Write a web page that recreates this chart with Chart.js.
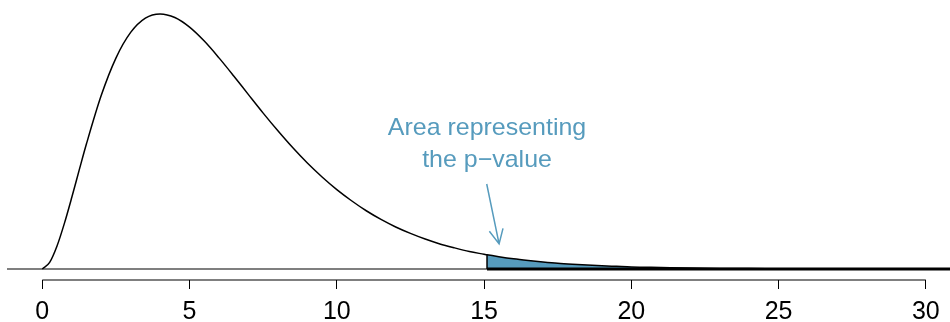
<!DOCTYPE html>
<html>
<head>
<meta charset="utf-8">
<script src="https://cdn.jsdelivr.net/npm/chart.js@4"></script>
<style>
  html, body { margin: 0; padding: 0; background: #fff; }
  #wrap { width: 950px; height: 322px; }
</style>
</head>
<body>
<div id="wrap"><canvas id="chart" width="950" height="322"></canvas></div>
<script>
// density curve
const curveX = [0, 0.25, 0.5, 0.75, 1, 1.25, 1.5, 2, 2.5, 3, 3.5, 4, 4.5, 5, 5.5, 6, 6.5, 7, 7.5, 8, 8.5, 9, 9.5,
  10, 10.5, 11, 11.5, 12, 12.5, 13, 13.5, 14, 14.5, 15, 15.1, 15.5, 16, 16.5, 17, 17.5, 18, 18.5,
  19, 19.5, 20, 21, 22, 23, 24, 25, 26, 27, 28, 30, 31];
const curveY = [0, 0.0035, 0.0122, 0.0242, 0.0379, 0.0523, 0.0664, 0.0920, 0.1119, 0.1255, 0.1331, 0.1353, 0.1334, 0.1283,
  0.1209, 0.1120, 0.1024, 0.0925, 0.0827, 0.0733, 0.0644, 0.0562, 0.0488, 0.0421, 0.0362, 0.0309,
  0.0263, 0.0223, 0.0189, 0.0159, 0.0133, 0.0112, 0.0093, 0.0078, 0.0075, 0.0065, 0.0054, 0.0045,
  0.0037, 0.0030, 0.0025, 0.0021, 0.0017, 0.0014, 0.0011, 0.0008, 0.0005, 0.0003, 0.0002, 0.00015,
  0.0001, 0.00006, 0.00004, 0.00001, 0];
const cutoff = 15.1;
const tickValues = [0, 5, 10, 15, 20, 25, 30];
const noteLines = ['Area representing', 'the p\u2212value'];

const X_MIN = -1.436, X_MAX = 30.82;
const Y_MIN = -0.00584, Y_MAX = 0.1427;
const blue = '#569BBD';

const curve = curveX.map((x, i) => ({ x: x, y: curveY[i] }));
const tail = curve.filter(p => p.x >= cutoff);
const cutoffY = curveY[curveX.indexOf(cutoff)];

const notePlugin = {
  id: 'note',
  afterDatasetsDraw(chart) {
    const ctx = chart.ctx;
    const xs = chart.scales.x, ys = chart.scales.y;
    const cx = xs.getPixelForValue(15.1);
    ctx.save();
    ctx.fillStyle = blue;
    ctx.font = '24px "Liberation Sans", Arial, sans-serif';
    ctx.textAlign = 'center';
    ctx.textBaseline = 'middle';
    // text in the reference is a little wider than the font
    ctx.save();
    ctx.translate(cx, 0);
    ctx.scale(1.04, 1);
    ctx.fillText(noteLines[0], 0, ys.getPixelForValue(0.0748));
    ctx.fillText(noteLines[1], 0, ys.getPixelForValue(0.0578));
    ctx.restore();

    // arrow
    const x0 = xs.getPixelForValue(15.09), y0 = ys.getPixelForValue(0.0451);
    const x1 = xs.getPixelForValue(15.51), y1 = ys.getPixelForValue(0.0133);
    const ang = Math.atan2(y1 - y0, x1 - x0);
    const len = 16, spread = 0.45;
    ctx.strokeStyle = blue;
    ctx.lineWidth = 1.5;
    ctx.beginPath();
    ctx.moveTo(x0, y0);
    ctx.lineTo(x1, y1);
    ctx.moveTo(x1 - len * Math.cos(ang - spread), y1 - len * Math.sin(ang - spread));
    ctx.lineTo(x1, y1);
    ctx.lineTo(x1 - len * Math.cos(ang + spread), y1 - len * Math.sin(ang + spread));
    ctx.stroke();
    ctx.restore();
  }
};

new Chart(document.getElementById('chart'), {
  type: 'line',
  data: {
    datasets: [
      {
        data: curve, borderColor: '#000', borderWidth: 1.5,
        cubicInterpolationMode: 'monotone', pointRadius: 0, fill: false, order: 0
      },
      {
        data: [{ x: cutoff, y: 0 }, { x: cutoff, y: cutoffY }],
        borderColor: '#000', borderWidth: 1.5, pointRadius: 0, fill: false, order: 1
      },
      {
        data: [{ x: cutoff, y: 0 }, { x: X_MAX, y: 0 }],
        borderColor: '#000', borderWidth: 3, pointRadius: 0, fill: false, order: 2
      },
      {
        data: tail, borderWidth: 0, borderColor: 'rgba(0,0,0,0)', backgroundColor: blue,
        cubicInterpolationMode: 'monotone', pointRadius: 0, fill: 'origin', order: 5
      },
      {
        data: [{ x: -1.2, y: 0 }, { x: X_MAX, y: 0 }],
        borderColor: '#000', borderWidth: 1.2, pointRadius: 0, fill: false, order: 6
      },
      {
        data: [{ x: tickValues[0], y: Y_MIN }, { x: tickValues[tickValues.length - 1], y: Y_MIN }],
        borderColor: '#000', borderWidth: 1.2, pointRadius: 0, fill: false, clip: false, order: 7
      }
    ]
  },
  options: {
    responsive: false,
    animation: false,
    layout: { padding: 0 },
    plugins: { legend: { display: false }, tooltip: { enabled: false } },
    scales: {
      x: {
        type: 'linear',
        min: X_MIN,
        max: X_MAX,
        afterBuildTicks: s => { s.ticks = tickValues.map(v => ({ value: v })); },
        afterFit: s => { s.height = 42; },
        border: { display: false },
        grid: { drawOnChartArea: false, drawTicks: true, tickLength: 9, color: '#000', lineWidth: 1 },
        ticks: {
          color: '#000',
          padding: 8,
          maxRotation: 0,
          autoSkip: false,
          font: { family: '"Liberation Sans", Arial, sans-serif', size: 25 }
        }
      },
      y: { display: false, min: Y_MIN, max: Y_MAX }
    }
  },
  plugins: [notePlugin]
});
</script>
</body>
</html>
